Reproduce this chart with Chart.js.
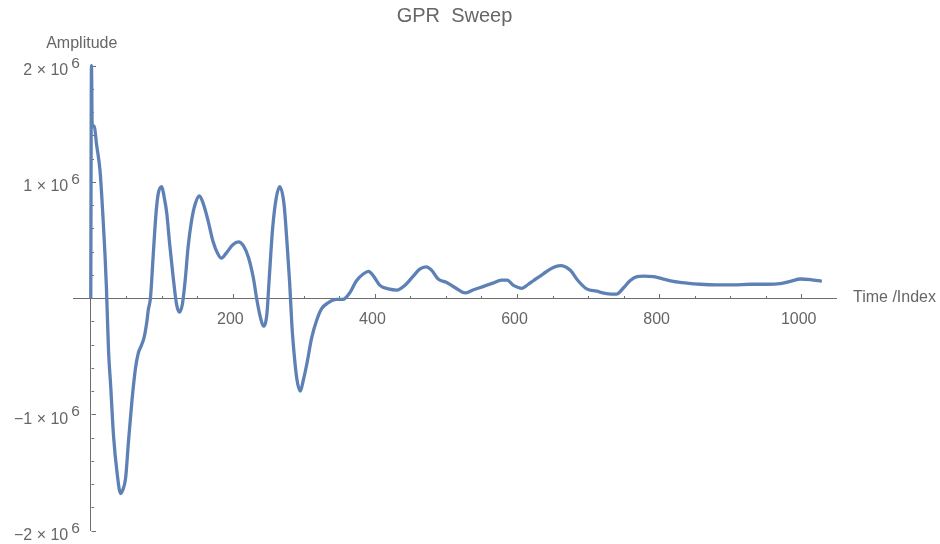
<!DOCTYPE html>
<html>
<head>
<meta charset="utf-8">
<title>GPR Sweep</title>
<script src="https://cdn.jsdelivr.net/npm/chart.js@4.4.1/dist/chart.umd.min.js"></script>
<style>
  html, body { margin: 0; padding: 0; background: #fff; }
</style>
</head>
<body>
<canvas id="grafico" width="940" height="544"></canvas>
<script>
const indices = [
    0, 1, 2, 5, 8, 13, 17, 20, 22, 25, 28, 32, 37, 42, 45, 49, 53, 58, 63, 67,
    71, 75, 79, 81, 84, 88, 92, 95, 100, 103, 107, 111, 116, 121, 125, 129, 133, 137, 142, 147,
    153, 158, 165, 172, 179, 184, 191, 200, 208, 215, 222, 229, 234, 239, 243, 248, 251, 256, 261, 266,
    272, 276, 280, 283, 285, 290, 295, 299, 304, 311, 318, 325, 334, 346, 355, 365, 374, 384,
    391, 398, 407, 419, 431, 442, 454, 463, 472, 480, 489, 501, 513, 527, 538, 552, 566, 578, 586, 595,
    607, 616, 623, 637, 651, 661, 675, 686, 698, 712, 726, 740, 750, 759, 769, 778, 792, 806, 820, 839,
    858, 881, 905, 928, 952, 970, 985, 999, 1013, 1029
];
const amplitudes = [
    0, 2.0e6, 1.49e6, 1.48e6, 1.33e6, 1.10e6, 0.72e6, 0.38e6, 0.10e6, -0.45e6, -0.75e6, -1.18e6, -1.50e6, -1.68e6, -1.65e6, -1.55e6, -1.24e6, -0.88e6, -0.60e6, -0.47e6,
    -0.41e6, -0.34e6, -0.20e6, -0.10e6, 0, 0.38e6, 0.74e6, 0.90e6, 0.96e6, 0.88e6, 0.73e6, 0.47e6, 0.18e6, -0.06e6, -0.12e6, -0.05e6, 0.16e6, 0.44e6, 0.67e6, 0.81e6,
    0.88e6, 0.82e6, 0.67e6, 0.49e6, 0.38e6, 0.345e6, 0.39e6, 0.46e6, 0.485e6, 0.45e6, 0.35e6, 0.17e6, -0.02e6, -0.17e6, -0.24e6, -0.13e6, 0.15e6, 0.60e6, 0.86e6, 0.96e6,
    0.81e6, 0.50e6, 0.13e6, -0.22e6, -0.39e6, -0.69e6, -0.80e6, -0.71e6, -0.57e6, -0.34e6, -0.19e6, -0.09e6, -0.04e6, -0.01e6, -0.01e6, 0.05e6, 0.15e6, 0.21e6,
    0.23e6, 0.19e6, 0.11e6, 0.08e6, 0.07e6, 0.11e6, 0.19e6, 0.25e6, 0.27e6, 0.24e6, 0.165e6, 0.135e6, 0.09e6, 0.045e6, 0.07e6, 0.10e6, 0.13e6, 0.155e6, 0.155e6, 0.11e6,
    0.085e6, 0.12e6, 0.15e6, 0.21e6, 0.265e6, 0.28e6, 0.24e6, 0.15e6, 0.08e6, 0.06e6, 0.04e6, 0.035e6, 0.09e6, 0.15e6, 0.185e6, 0.19e6, 0.185e6, 0.165e6, 0.145e6, 0.13e6,
    0.12e6, 0.115e6, 0.115e6, 0.12e6, 0.12e6, 0.125e6, 0.145e6, 0.165e6, 0.16e6, 0.145e6
];

// Marcas de los ejes
const xTickValues = [200, 400, 600, 800, 1000];
const yTickValues = [-2e6, -1e6, 1e6, 2e6];
const yTickMantisas = ['\u22122', '\u22121', '1', '2'];

const colorTexto = '#666666';
const colorEje = '#6e6e6e';
const fuente = '"Liberation Sans", Arial, sans-serif';

// Ejes al estilo Mathematica: marcas hacia dentro y etiquetas 10^6
const ejesPlugin = {
    id: 'ejesMathematica',
    beforeDatasetsDraw(chart) {
        const { ctx, scales: { x, y } } = chart;
        const x0 = Math.round(x.getPixelForValue(0)) + 0.5;
        const y0 = Math.round(y.getPixelForValue(0)) + 0.5;
        ctx.save();
        ctx.strokeStyle = colorEje;
        ctx.lineWidth = 1;
        ctx.beginPath();
        // marcas menores cada 50, mayores cada 200
        for (let k = 1; k <= 20; k++) {
            const v = k * 50;
            const px = Math.round(x.getPixelForValue(v)) + 0.5;
            const len = v % 200 === 0 ? 4.5 : 2.5;
            ctx.moveTo(px, y0);
            ctx.lineTo(px, y0 - len);
        }
        // eje y: menores cada 2e5, mayores cada 1e6
        for (let k = -10; k <= 10; k++) {
            if (k === 0) continue;
            const py = Math.round(y.getPixelForValue(k * 2e5)) + 0.5;
            const len = k % 5 === 0 ? 4.5 : 2.5;
            ctx.moveTo(x0, py);
            ctx.lineTo(x0 + len, py);
        }
        ctx.stroke();
        ctx.restore();
    },
    afterDraw(chart) {
        const { ctx, scales: { x, y } } = chart;
        const x0 = x.getPixelForValue(0);
        const y0 = y.getPixelForValue(0);
        ctx.save();
        ctx.fillStyle = colorTexto;

        // etiquetas del eje x
        ctx.font = '16px ' + fuente;
        ctx.textAlign = 'center';
        ctx.textBaseline = 'alphabetic';
        xTickValues.forEach(v => {
            ctx.fillText(String(v), x.getPixelForValue(v) - 2.5, y0 + 25.5);
        });

        // etiquetas del eje y con exponente
        yTickValues.forEach((v, i) => {
            const py = y.getPixelForValue(v);
            ctx.font = '15.5px ' + fuente;
            ctx.textAlign = 'left';
            ctx.fillText('6', x0 - 19.5, py + 2);
            ctx.font = '16px ' + fuente;
            ctx.textAlign = 'right';
            ctx.fillText(yTickMantisas[i] + ' \u00d7 10', x0 - 22.5, py + 9.5);
        });

        // titulos de los ejes
        ctx.font = '16px ' + fuente;
        ctx.textAlign = 'center';
        ctx.fillText('Amplitude', x0 - 9, chart.chartArea.top - 18);
        ctx.textAlign = 'left';
        ctx.textBaseline = 'middle';
        ctx.fillText('Time /Index', chart.chartArea.right + 17, y0 - 1);
        ctx.restore();
    }
};

const ctx = document.getElementById('grafico').getContext('2d');
const grafico = new Chart(ctx, {
    type: 'line',
    data: {
        datasets: [{
            label: 'GPR Sweep',
            data: indices.map((t, i) => ({ x: t, y: amplitudes[i] })),
            borderColor: '#5E81B5',
            borderWidth: 3.3,
            pointRadius: 0,
            cubicInterpolationMode: 'monotone',
            fill: false,
            clip: 6
        }]
    },
    options: {
        responsive: false,
        animation: false,
        devicePixelRatio: 1,
        layout: {
            padding: { left: 73, right: 104, top: 0, bottom: 13.3 }
        },
        plugins: {
            legend: { display: false },
            tooltip: { enabled: false },
            title: {
                display: true,
                text: 'GPR  Sweep',
                color: colorTexto,
                fullSize: false,
                font: { family: fuente, size: 20, weight: 'normal' },
                padding: { top: 4.5, bottom: 37.2 }
            }
        },
        scales: {
            x: {
                type: 'linear',
                min: -25,
                max: 1049,
                position: { y: 0 },
                grid: { drawOnChartArea: false, drawTicks: false },
                border: { display: true, color: colorEje, width: 1 },
                ticks: { display: false }
            },
            y: {
                type: 'linear',
                min: -2e6,
                max: 2e6,
                position: { x: 0 },
                grid: { drawOnChartArea: false, drawTicks: false },
                border: { display: true, color: colorEje, width: 1 },
                ticks: { display: false }
            }
        }
    },
    plugins: [ejesPlugin]
});
</script>
</body>
</html>
